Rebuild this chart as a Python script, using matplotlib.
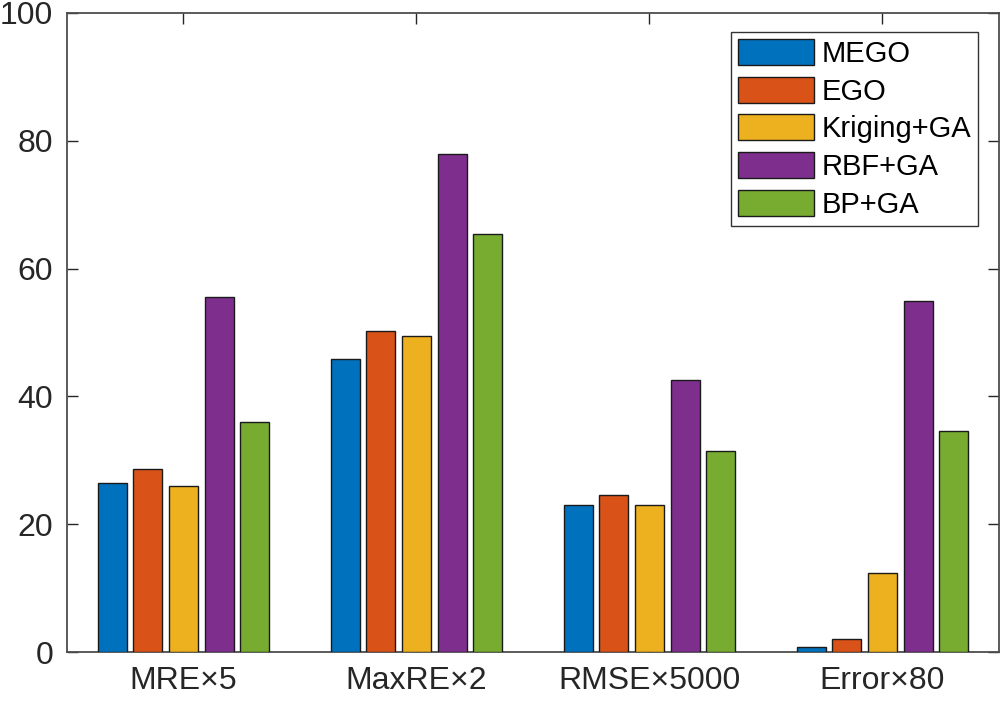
import numpy as np
import matplotlib
matplotlib.use("Agg")
import matplotlib.pyplot as plt

plt.rcParams['font.family'] = ['Liberation Sans', 'DejaVu Sans']

# donnees
categories = ["MRE×5", "MaxRE×2", "RMSE×5000", "Error×80"]
methodes = ["MEGO", "EGO", "Kriging+GA", "RBF+GA", "BP+GA"]
mego = [26.4, 45.9, 23.0, 0.8]
ego = [28.6, 50.2, 24.6, 2.0]
kriging_ga = [26.0, 49.5, 23.0, 12.4]
rbf_ga = [55.6, 77.9, 42.6, 54.9]
bp_ga = [36.0, 65.4, 31.5, 34.6]
yticks = [0, 20, 40, 60, 80, 100]

series = [mego, ego, kriging_ga, rbf_ga, bp_ga]
couleurs = ["#0072BD", "#D95319", "#EDB120", "#7E2F8E", "#77AC30"]

fig = plt.figure(figsize=(10.03, 7.02), dpi=100)
ax = fig.add_axes([0.0668, 0.0712, 0.9292, 0.9103])

x = np.arange(1, len(categories) + 1)
pas = 0.153
largeur = 0.124
for i, (vals, c, nom) in enumerate(zip(series, couleurs, methodes)):
    ax.bar(x + (i - 2) * pas, vals, largeur, color=c, edgecolor="#1a1a1a",
           linewidth=1.0, label=nom, zorder=3)

ax.set_xlim(0.5, 4.5)
ax.set_ylim(0, 100)
ax.set_xticks(x)
ax.set_xticklabels(categories)
ax.set_yticks(yticks)
ax.tick_params(direction="in", length=8, width=1.0, color="#262626",
               labelsize=23, labelcolor="#262626", top=True, right=True, pad=10)
ax.tick_params(axis="x", pad=10)
for s in ax.spines.values():
    s.set_color("#4d4d4d")
    s.set_linewidth(1.3)

leg = ax.legend(loc="upper right", bbox_to_anchor=(0.978, 0.971), fontsize=21,
                fancybox=False, framealpha=1, edgecolor="#333333",
                handlelength=2.6, handleheight=1.0, handletextpad=0.25,
                labelspacing=0.3, borderpad=0.25, borderaxespad=0)
leg.get_frame().set_linewidth(1.0)

plt.savefig("out.png", dpi=100)
